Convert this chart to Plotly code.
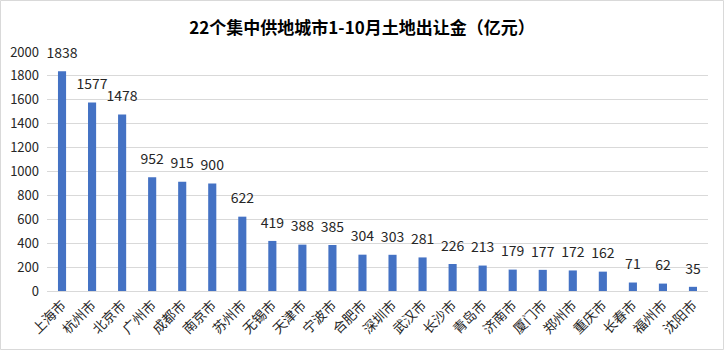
import plotly.graph_objects as go

cities = ["上海市", "杭州市", "北京市", "广州市", "成都市", "南京市", "苏州市", "无锡市",
          "天津市", "宁波市", "合肥市", "深圳市", "武汉市", "长沙市", "青岛市", "济南市",
          "厦门市", "郑州市", "重庆市", "长春市", "福州市", "沈阳市"]
values = [1838, 1577, 1478, 952, 915, 900, 622, 419, 388, 385, 304, 303, 281, 226,
          213, 179, 177, 172, 162, 71, 62, 35]
y_ticks = [0, 200, 400, 600, 800, 1000, 1200, 1400, 1600, 1800, 2000]

W, H = 724, 350
ml, mr, mt, mb = 47, 16, 52, 59
pw, ph = W - ml - mr, H - mt - mb

font = "Noto Sans CJK SC, Microsoft YaHei, sans-serif"

fig = go.Figure()
fig.add_trace(go.Bar(
    x=cities, y=values,
    marker=dict(color="#4472C4", line=dict(width=0)),
    hoverinfo="x+y",
))
fig.add_trace(go.Scatter(
    x=cities, y=values, mode="markers+text",
    marker=dict(size=14, color="rgba(0,0,0,0)"),
    text=[str(v) for v in values],
    textposition="top center",
    textfont=dict(size=14, color="#262626", family=font),
    cliponaxis=False, hoverinfo="skip",
))

fig.update_layout(
    width=W, height=H,
    margin=dict(l=ml, r=mr, t=mt, b=mb),
    paper_bgcolor="white", plot_bgcolor="white",
    bargap=0.73,
    showlegend=False,
    title=dict(text="<b>22个集中供地城市1-10月土地出让金（亿元）</b>",
               x=0.5, xanchor="center", y=1 - 28 / H, yanchor="middle",
               font=dict(size=17, color="#000000", family=font)),
    xaxis=dict(tickangle=-45, tickfont=dict(size=13.5, color="#262626", family=font),
               showline=True, linecolor="#D9D9D9", linewidth=1, ticks="",
               showgrid=False, automargin=False, range=[-0.5, len(cities) - 0.5]),
    yaxis=dict(range=[0, 2000], tickvals=y_ticks, showgrid=True, gridcolor="#D9D9D9",
               gridwidth=1, zeroline=False, ticks="", showline=False, automargin=False,
               ticklabelstandoff=7,
               tickfont=dict(size=13, color="#262626", family=font)),
    shapes=[dict(type="rect", xref="paper", yref="paper",
                 x0=(-ml + 0.5) / pw, x1=(pw + mr - 0.5) / pw,
                 y0=(-mb + 0.5) / ph, y1=(ph + mt - 0.5) / ph,
                 line=dict(color="#D9D9D9", width=1), layer="below")],
)

fig.write_html("out.html")
